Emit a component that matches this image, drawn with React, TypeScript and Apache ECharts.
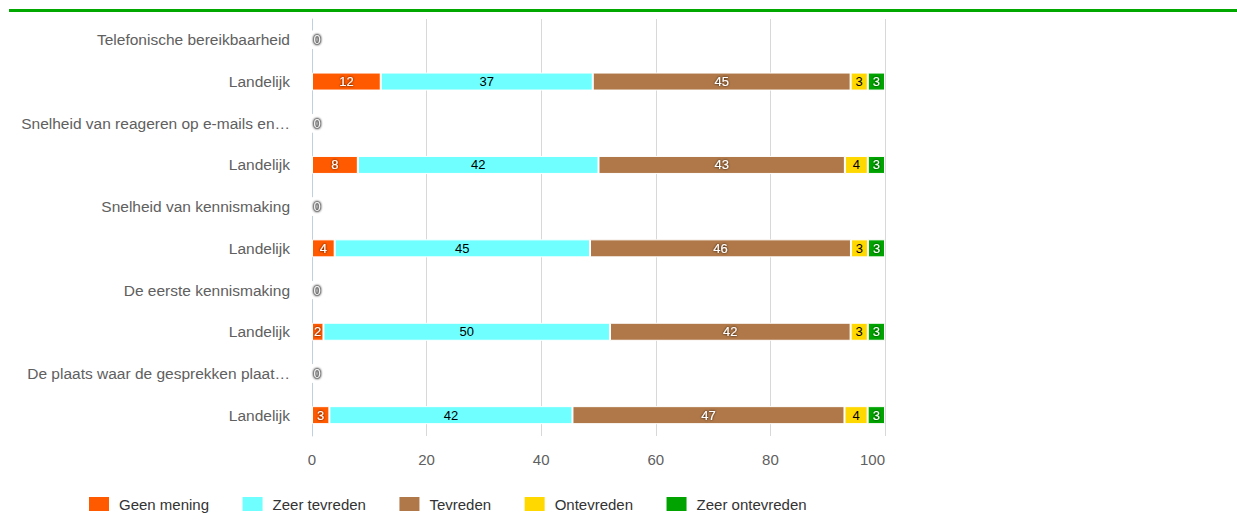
import React, { useEffect, useRef } from "react";
import * as echarts from "echarts";

const categories = [
  "Telefonische bereikbaarheid",
  "Landelijk",
  "Snelheid van reageren op e-mails en…",
  "Landelijk",
  "Snelheid van kennismaking",
  "Landelijk",
  "De eerste kennismaking",
  "Landelijk",
  "De plaats waar de gesprekken plaat…",
  "Landelijk",
];

const seriesNames = ["Geen mening", "Zeer tevreden", "Tevreden", "Ontevreden", "Zeer ontevreden"];
const seriesColors = ["#FF5A00", "#70FFFF", "#B07848", "#FFD800", "#00A300"];
const labelDark = [false, true, false, true, false];

const geenMening = [0, 12, 0, 8, 0, 4, 0, 2, 0, 3];
const zeerTevreden = [0, 37, 0, 42, 0, 45, 0, 50, 0, 42];
const tevreden = [0, 45, 0, 43, 0, 46, 0, 42, 0, 47];
const ontevreden = [0, 3, 0, 4, 0, 3, 0, 3, 0, 4];
const zeerOntevreden = [0, 3, 0, 3, 0, 3, 0, 3, 0, 3];

const xTicks = [0, 20, 40, 60, 80, 100];

const allValues = [geenMening, zeerTevreden, tevreden, ontevreden, zeerOntevreden];

export default function App() {
  const ref = useRef<HTMLDivElement>(null);
  useEffect(() => {
    if (!ref.current) return;
    const chart = echarts.init(ref.current, undefined, { renderer: "svg" });
    const totals = categories.map((_, i) => allValues.reduce((s, arr) => s + arr[i], 0));
    const font = "'Liberation Sans', Arial, sans-serif";
    const series = allValues.map((arr, si) => ({
      name: seriesNames[si],
      type: "bar",
      stack: "total",
      barWidth: 18,
      itemStyle: { color: seriesColors[si], borderColor: "#fff", borderWidth: 1 },
      label: {
        show: true,
        position: "inside",
        fontSize: 13,
        fontFamily: font,
        color: labelDark[si] ? "#000" : "#fff",
        textShadowColor: labelDark[si] ? "transparent" : "rgba(0,0,0,0.9)",
        textShadowBlur: labelDark[si] ? 0 : 2,
        formatter: (p: any) => String(p.data.raw),
      },
      data: arr.map((v, i) => {
        const total = totals[i];
        const item: any = { value: total > 0 ? (v / total) * 100 : 0, raw: v };
        if (total === 0) {
          item.label = si === 0
            ? {
                show: true,
                position: "right",
                distance: 1,
                color: "#f4f4f4",
                textBorderColor: "rgba(110,110,110,0.6)",
                textBorderWidth: 2,
                textShadowColor: "transparent",
              }
            : { show: false };
        }
        return item;
      }),
    }));
    chart.setOption({
      animation: false,
      textStyle: { fontFamily: font },
      graphic: [
        { type: "rect", shape: { x: 9, y: 9, width: 1228, height: 3 }, style: { fill: "#00A800" } },
      ],
      grid: { left: 312, right: 352, top: 19, bottom: 86, containLabel: false },
      legend: {
        left: 87,
        top: 495,
        padding: 0,
        icon: "rect",
        itemWidth: 22,
        itemHeight: 16,
        itemGap: 31.5,
        textStyle: { fontSize: 15, color: "#333", fontFamily: font, padding: [0, 0, 0, 4] },
        data: seriesNames,
      },
      xAxis: {
        type: "value",
        min: 0,
        max: 100,
        interval: 20,
        axisLine: { show: false },
        axisTick: { show: false },
        splitLine: { lineStyle: { color: "#D8D8D8" } },
        axisLabel: {
          color: "#606060",
          fontSize: 15,
          margin: 16,
          fontFamily: font,
          alignMaxLabel: "right",
          formatter: (v: number) => (xTicks.includes(v) ? String(v) : ""),
        },
      },
      yAxis: {
        type: "category",
        data: categories,
        inverse: true,
        axisLine: { lineStyle: { color: "#C0D0E0" } },
        axisTick: { length: 12, lineStyle: { color: "#C0D0E0" } },
        axisLabel: { color: "#606060", fontSize: 15.5, margin: 22, fontFamily: font },
      },
      series,
    });
    return () => chart.dispose();
  }, []);
  return <div ref={ref} style={{ position: "absolute", left: 0, top: 0, width: 1237, height: 522 }} />;
}
